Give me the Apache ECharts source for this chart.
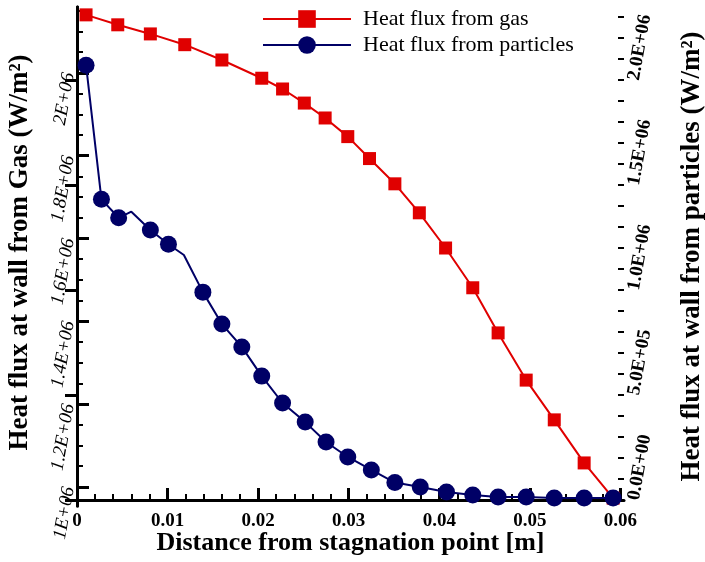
<!DOCTYPE html>
<html><head><meta charset="utf-8">
<script src="https://cdn.jsdelivr.net/npm/echarts@6/dist/echarts.min.js"></script>
<style>html,body{margin:0;padding:0;background:#fff}#c{width:705px;height:562px}</style>
</head><body><div id="c"></div>
<script>
// ---- data ----
const distGas = [0.0010, 0.0045, 0.0081, 0.0119, 0.0160, 0.0204, 0.0227, 0.0251, 0.0274, 0.0299,
                 0.0323, 0.0351, 0.0378, 0.0407, 0.0437, 0.0465, 0.0496, 0.0527, 0.0560, 0.0592];
const heatGas = [2.140e6, 2.116e6, 2.094e6, 2.068e6, 2.031e6, 1.987e6, 1.961e6, 1.927e6, 1.891e6, 1.846e6,
                 1.793e6, 1.732e6, 1.662e6, 1.577e6, 1.481e6, 1.372e6, 1.258e6, 1.162e6, 1.058e6, 0.973e6];
const distPart = [0.0010, 0.0027, 0.0046, 0.0060, 0.0081, 0.0101, 0.0118, 0.0139, 0.0160, 0.0182,
                  0.0204, 0.0227, 0.0252, 0.0275, 0.0299, 0.0325, 0.0351, 0.0379, 0.0408, 0.0437,
                  0.0465, 0.0496, 0.0527, 0.0560, 0.0592];
const heatPart = [2.071e6, 1.432e6, 1.344e6, 1.373e6, 1.286e6, 1.218e6, 1.167e6, 0.990e6, 0.838e6, 0.729e6,
                  0.590e6, 0.462e6, 0.371e6, 0.276e6, 0.205e6, 0.143e6, 0.083e6, 0.062e6, 0.038e6, 0.024e6,
                  0.014e6, 0.014e6, 0.010e6, 0.010e6, 0.010e6];
const partMarked = [1,1,1,0,1,1,0,1,1,1, 1,1,1,1,1,1,1,1,1,1, 1,1,1,1,1];

const xTickValues = [0, 0.01, 0.02, 0.03, 0.04, 0.05, 0.06];
const xTickLabels = ['0', '0.01', '0.02', '0.03', '0.04', '0.05', '0.06'];
const leftTickValues = [1.0e6, 1.2e6, 1.4e6, 1.6e6, 1.8e6, 2.0e6];
const leftTickLabels = ['1E+06', '1.2E+06', '1.4E+06', '1.6E+06', '1.8E+06', '2E+06'];
const rightTickValues = [0, 0.5e6, 1.0e6, 1.5e6, 2.0e6];
const rightTickLabels = ['0.0E+00', '5.0E+05', '1.0E+06', '1.5E+06', '2.0E+06'];

const seriesNames = ['Heat flux from gas', 'Heat flux from particles'];

// minor tick positions
function steps(a, b, s) { const r = []; for (let i = 0; a + i * s <= b + 1e-9 * Math.max(1, b); i++) r.push(+(a + i * s).toPrecision(10)); return r; }
const xMinor = steps(0, 0.06, 0.002);
const leftMinor = steps(1.0e6, 2.15e6, 0.05e6);
const rightMinor = steps(0, 2.3e6, 0.1e6);

// ---- chart ----
const X_MIN = 0, X_MAX = 0.0604;
const L_MIN = 0.954e6, L_MAX = 2.159e6;
const R_MIN = -0.0286e6, R_MAX = 2.348e6;
const FONT = '"Liberation Serif", "Times New Roman", serif';
const RED = '#e00000', NAVY = '#000066';

function lookup(vals, labels) {
  return function (v) {
    for (let i = 0; i < vals.length; i++) if (Math.abs(v - vals[i]) < 1e-9 * Math.max(1, Math.abs(vals[i]))) return labels[i];
    return '';
  };
}

const chart = echarts.init(document.getElementById('c'), null, { renderer: 'canvas' });
chart.setOption({
  animation: false,
  backgroundColor: '#fff',
  grid: { left: 77, right: 81, top: 7, bottom: 56, outerBoundsMode: 'none', containLabel: false },
  legend: {
    orient: 'vertical', left: 257, top: 3, itemWidth: 88, itemHeight: 22, itemGap: 4,
    textStyle: { fontFamily: FONT, fontSize: 22, color: '#000', padding: [0, 0, 0, 7] },
    data: seriesNames
  },
  xAxis: [
    {
      type: 'value', position: 'bottom', min: X_MIN, max: X_MAX,
      name: 'Distance from stagnation point [m]', nameLocation: 'middle', nameGap: 24, nameMoveOverlap: false,
      nameTextStyle: { fontFamily: FONT, fontSize: 26, fontWeight: 'bold', color: '#000' },
      axisLine: { show: true, lineStyle: { color: '#000', width: 3 } },
      axisTick: { show: true, inside: true, length: 12, lineStyle: { color: '#000', width: 3 }, customValues: xTickValues },
      axisLabel: { show: true, customValues: xTickValues, formatter: lookup(xTickValues, xTickLabels), margin: 6,
        fontFamily: FONT, fontSize: 19, fontWeight: 'bold', color: '#000' },
      splitLine: { show: false }
    },
    {
      type: 'value', position: 'bottom', min: X_MIN, max: X_MAX,
      axisLine: { show: false },
      axisTick: { show: true, inside: true, length: 6, lineStyle: { color: '#000', width: 2 }, customValues: xMinor },
      axisLabel: { show: false }, splitLine: { show: false }
    }
  ],
  yAxis: [
    {
      type: 'value', position: 'left', min: L_MIN, max: L_MAX,
      name: 'Heat flux at wall from Gas (W/m\u00B2)', nameLocation: 'middle', nameGap: 43, nameRotate: 90, nameMoveOverlap: false,
      nameTextStyle: { fontFamily: FONT, fontSize: 27, fontWeight: 'bold', color: '#000', padding: [0, 0, 0, 8] },
      axisLine: { show: true, lineStyle: { color: '#000', width: 3 } },
      axisTick: { show: true, inside: true, length: 12, lineStyle: { color: '#000', width: 3 }, customValues: leftTickValues },
      axisLabel: { show: true, customValues: leftTickValues, formatter: lookup(leftTickValues, leftTickLabels), rotate: 80, margin: 8,
        fontFamily: FONT, fontSize: 19, fontStyle: 'italic', color: '#000' },
      splitLine: { show: false }
    },
    {
      type: 'value', position: 'right', min: R_MIN, max: R_MAX,
      name: 'Heat flux at wall from particles (W/m\u00B2)', nameLocation: 'middle', nameGap: 55, nameRotate: 90, nameMoveOverlap: false,
      nameTextStyle: { fontFamily: FONT, fontSize: 27, fontWeight: 'bold', color: '#000' },
      axisLine: { show: true, lineStyle: { color: '#000', width: 3 } },
      axisTick: { show: true, inside: true, length: 12, lineStyle: { color: '#000', width: 3 }, customValues: rightTickValues },
      axisLabel: { show: true, customValues: rightTickValues, formatter: lookup(rightTickValues, rightTickLabels), rotate: 80, margin: 10,
        fontFamily: FONT, fontSize: 19, fontWeight: 'bold', color: '#000' },
      splitLine: { show: false }
    },
    {
      type: 'value', position: 'left', min: L_MIN, max: L_MAX,
      axisLine: { show: false },
      axisTick: { show: true, inside: true, length: 6, lineStyle: { color: '#000', width: 2 }, customValues: leftMinor },
      axisLabel: { show: false }, splitLine: { show: false }
    },
    {
      type: 'value', position: 'right', min: R_MIN, max: R_MAX,
      axisLine: { show: false },
      axisTick: { show: true, inside: true, length: 6, lineStyle: { color: '#000', width: 2 }, customValues: rightMinor },
      axisLabel: { show: false }, splitLine: { show: false }
    }
  ],
  series: [
    {
      name: seriesNames[0], type: 'line', xAxisIndex: 0, yAxisIndex: 0,
      symbol: 'rect', symbolSize: 13, color: RED,
      lineStyle: { color: RED, width: 2 }, itemStyle: { color: RED },
      data: distGas.map((d, i) => [d, heatGas[i]])
    },
    {
      name: seriesNames[1], type: 'line', xAxisIndex: 0, yAxisIndex: 1,
      symbol: 'circle', symbolSize: 17, color: NAVY,
      lineStyle: { color: NAVY, width: 2 }, itemStyle: { color: NAVY },
      data: distPart.map((d, i) => partMarked[i] ? [d, heatPart[i]] : { value: [d, heatPart[i]], symbol: 'none' })
    }
  ]
});
</script>
</body></html>
